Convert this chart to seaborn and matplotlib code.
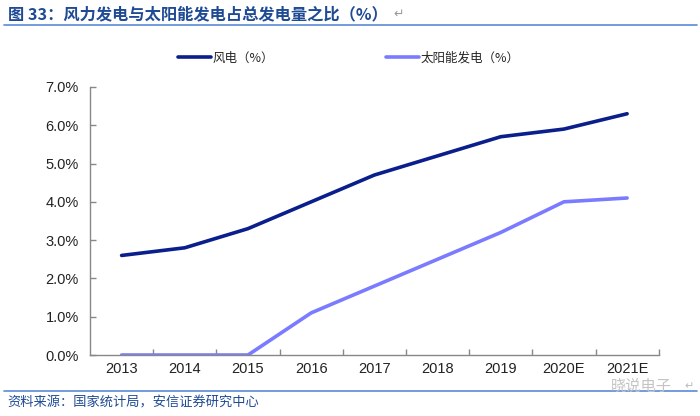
import pandas as pd
import numpy as np
import matplotlib
matplotlib.use('Agg')
import matplotlib.pyplot as plt
import seaborn as sns
from matplotlib.ticker import FixedLocator, FuncFormatter
from matplotlib.lines import Line2D

years = ['2013', '2014', '2015', '2016', '2017', '2018', '2019', '2020E', '2021E']
wind = [2.6, 2.8, 3.3, 4.0, 4.7, 5.2, 5.7, 5.9, 6.3]
solar = [0.0, 0.0, 0.0, 1.1, 1.8, 2.5, 3.2, 4.0, 4.1]
series_names = ['风电（%）', '太阳能发电（%）']
colors = ['#0A1E8C', '#7B7BFF']

sns.set_theme(style='white')
plt.rcParams['font.family'] = ['Liberation Sans', 'Noto Sans CJK SC', 'DejaVu Sans']
cjk = ['Noto Sans CJK SC', 'DejaVu Sans']

df = pd.DataFrame({'year': years * 2,
                   'value': wind + solar,
                   'series': [series_names[0]] * len(years) + [series_names[1]] * len(years)})
df['pos'] = df['year'].map({y: i for i, y in enumerate(years)})

fig = plt.figure(figsize=(7, 4.16), dpi=100)
ax = fig.add_axes([0.1286, 0.1466, 0.8124, 0.6444])

sns.lineplot(data=df, x='pos', y='value', hue='series', palette=colors,
             linewidth=2.6, sort=False, ax=ax, legend=False)

ax.set_xlim(-0.5, len(years) - 0.5)
ax.set_ylim(0, 7)
ax.yaxis.set_major_locator(FixedLocator(np.arange(0, 7.01, 1)))
ax.yaxis.set_major_formatter(FuncFormatter(lambda v, p: '%.1f%%' % v))
ax.xaxis.set_major_locator(FixedLocator(range(len(years))))
ax.set_xticklabels(years)
ax.xaxis.set_minor_locator(FixedLocator(np.arange(0.5, len(years), 1)))
ax.tick_params(axis='x', which='major', length=0, pad=5, labelsize=10.5, colors='#222222')
ax.tick_params(axis='x', which='minor', direction='in', length=4, color='#888888', width=1, bottom=True)
ax.tick_params(axis='y', direction='in', length=4, color='#888888', width=1, left=True,
               labelsize=10.5, labelcolor='#222222', pad=8)
ax.set_xlabel('')
ax.set_ylabel('')
for s in ['top', 'right']:
    ax.spines[s].set_visible(False)
for s in ['left', 'bottom']:
    ax.spines[s].set_color('#888888')
    ax.spines[s].set_linewidth(1)

# legend
handles = [Line2D([0], [0], color=c, lw=2.6) for c in colors]
fig.legend(handles, series_names, loc='center', bbox_to_anchor=(0.498, 0.86), ncol=2,
           frameon=False, columnspacing=9, handlelength=2.64, handletextpad=0.1,
           prop={'family': cjk, 'size': 9})

# title, rules, source
fig.text(0.011, 0.966, '图 33：风力发电与太阳能发电占总发电量之比（%）', fontsize=11.7,
         fontweight='bold', color='#1F4A94', va='center', family=cjk)
fig.text(0.562, 0.966, '↵', fontsize=9, color='#999999', va='center', family=['DejaVu Sans'])
fig.add_artist(Line2D([0.006, 0.996], [0.94, 0.94], color='#5B8BD6', lw=1.2))
fig.add_artist(Line2D([0.006, 0.996], [0.06, 0.06], color='#5B8BD6', lw=1.2))
fig.text(0.011, 0.031, '资料来源：国家统计局，安信证券研究中心', fontsize=9.5, style='italic',
         color='#1F4A94', va='center', family=cjk)
fig.text(0.873, 0.072, '晓说电子', fontsize=11, color='#C4C4C4', va='center', family=cjk)
fig.text(0.978, 0.072, '↵', fontsize=8, color='#BBBBBB', va='center', family=['DejaVu Sans'])

fig.savefig('out.png', dpi=100)
